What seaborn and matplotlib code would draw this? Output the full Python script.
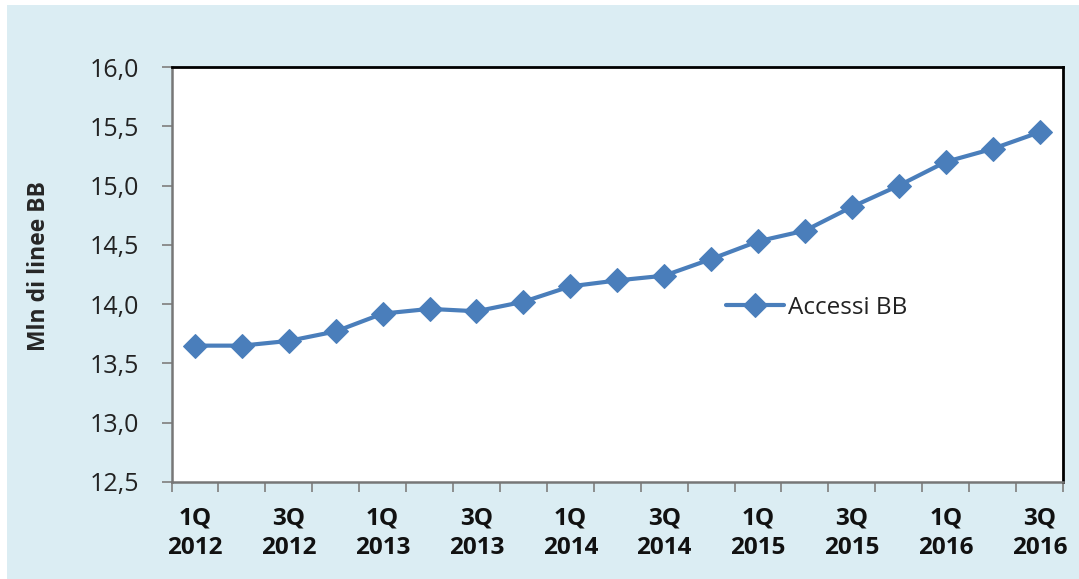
import numpy as np
import pandas as pd
import matplotlib
matplotlib.use("Agg")
import matplotlib.pyplot as plt
import seaborn as sns
from matplotlib.patches import Rectangle

quarters = ["1Q 2012", "2Q 2012", "3Q 2012", "4Q 2012",
            "1Q 2013", "2Q 2013", "3Q 2013", "4Q 2013",
            "1Q 2014", "2Q 2014", "3Q 2014", "4Q 2014",
            "1Q 2015", "2Q 2015", "3Q 2015", "4Q 2015",
            "1Q 2016", "2Q 2016", "3Q 2016"]
accessi_bb = [13.65, 13.65, 13.69, 13.77, 13.92, 13.96, 13.94, 14.02,
              14.15, 14.20, 14.24, 14.38, 14.53, 14.62, 14.82, 15.00,
              15.20, 15.31, 15.45]
y_ticks = [12.5, 13.0, 13.5, 14.0, 14.5, 15.0, 15.5, 16.0]
series_name = "Accessi BB"
y_label = "Mln di linee BB"

sns.set_style("white")
plt.rcParams['font.family'] = ['Open Sans', 'DejaVu Sans']

df = pd.DataFrame({"pos": np.arange(len(quarters)), "value": accessi_bb,
                   "serie": series_name})

fig = plt.figure(figsize=(10.79, 5.79), dpi=100, facecolor="white")
fig.patches.append(Rectangle((7 / 1079, 0), 1 - 7 / 1079, 1 - 5 / 579,
                             transform=fig.transFigure, facecolor="#DBEDF3",
                             edgecolor="none", zorder=-10))
ax = fig.add_axes([171.5 / 1079, 1 - 482 / 579, (1063 - 171.5) / 1079, (482 - 67) / 579])
ax.set_facecolor("white")

color = "#4A7EBB"
sns.lineplot(data=df, x="pos", y="value", ax=ax, color=color, linewidth=3,
             marker="D", markersize=12, markeredgecolor=color,
             label=series_name, clip_on=False)

ax.set_xlim(-0.5, len(quarters) - 0.5)
ax.set_ylim(12.5, 16.0)
ax.set_yticks(y_ticks)
ax.set_yticklabels([f"{v:.1f}".replace(".", ",") for v in y_ticks], fontsize=18, color="#222222")

major_pos = np.arange(0, len(quarters), 2)
ax.set_xticks(major_pos)
ax.set_xticklabels([quarters[i].replace(" ", "\n") for i in major_pos],
                   fontsize=17.5, fontweight="bold", color="#111111", linespacing=1.3)
ax.set_xticks(np.arange(-0.5, len(quarters), 1), minor=True)
ax.tick_params(axis="x", which="major", length=0, pad=18)
ax.tick_params(axis="x", which="minor", length=7, width=1.3, color="#868686", direction="out", bottom=True)
ax.tick_params(axis="y", which="major", length=7, width=1.3, color="#868686", direction="out", left=True, pad=16)

ax.set_xlabel("")
ax.set_ylabel(y_label, fontsize=16.5, fontweight="bold")
ax.yaxis.set_label_coords(-0.135, 0.52)

for side in ["top", "right"]:
    ax.spines[side].set_color("black")
    ax.spines[side].set_linewidth(2)
for side in ["left", "bottom"]:
    ax.spines[side].set_color("#777777")
    ax.spines[side].set_linewidth(1.8)

leg = ax.legend(loc="center left", bbox_to_anchor=(0.597, 0.42), frameon=False,
                fontsize=17.5, handlelength=2.4, handletextpad=0.15)
for t in leg.get_texts():
    t.set_color("#222222")

fig.savefig("out.png", dpi=100, facecolor=fig.get_facecolor())
